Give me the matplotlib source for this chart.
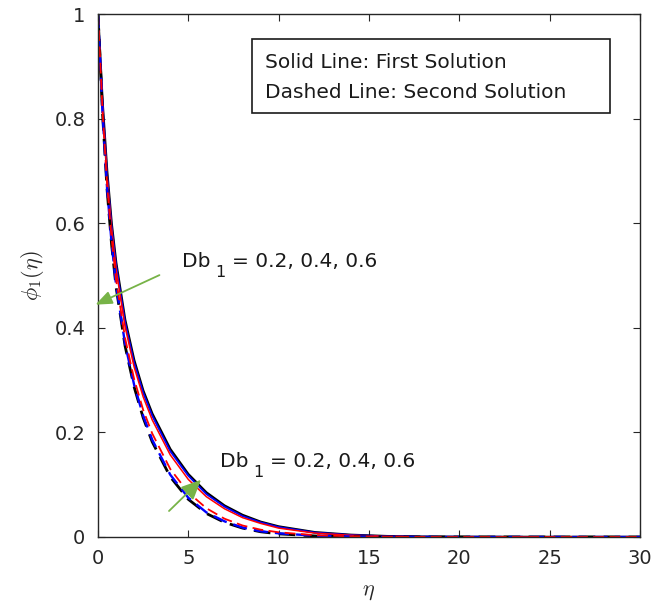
import matplotlib
matplotlib.use("Agg")
import matplotlib.pyplot as plt
from matplotlib.patches import Rectangle
from matplotlib.transforms import offset_copy

plt.rcParams['font.family'] = ['DejaVu Sans']
plt.rcParams['mathtext.fontset'] = 'cm'

eta = [0, 0.25, 0.5, 0.75, 1, 1.5, 2, 2.5, 3, 4, 5, 6, 7, 8, 9, 10, 12, 14, 16, 18, 20, 25, 30]

# First solution (solid)
first_02 = [1, 0.83, 0.70, 0.60, 0.525, 0.415, 0.338, 0.280, 0.236, 0.168, 0.120, 0.085, 0.060, 0.042, 0.029, 0.020, 0.009, 0.004, 0.0015, 0.0005, 0.0002, 0, 0]
first_04 = [1, 0.83, 0.695, 0.595, 0.520, 0.410, 0.333, 0.276, 0.232, 0.164, 0.117, 0.082, 0.058, 0.040, 0.028, 0.019, 0.0085, 0.0037, 0.0014, 0.0005, 0.0002, 0, 0]
first_06 = [1, 0.825, 0.69, 0.59, 0.512, 0.402, 0.325, 0.268, 0.224, 0.157, 0.110, 0.077, 0.054, 0.037, 0.026, 0.017, 0.0075, 0.0032, 0.0012, 0.0004, 0.0001, 0, 0]

# Second solution (dashed)
second_02 = [1, 0.81, 0.665, 0.56, 0.478, 0.365, 0.287, 0.228, 0.182, 0.115, 0.072, 0.045, 0.028, 0.017, 0.010, 0.006, 0.002, 0.0007, 0.0002, 0, 0, 0, 0]
second_04 = [1, 0.81, 0.668, 0.563, 0.482, 0.369, 0.291, 0.232, 0.186, 0.119, 0.075, 0.047, 0.030, 0.018, 0.011, 0.007, 0.0025, 0.0008, 0.0002, 0, 0, 0, 0]
second_06 = [1, 0.815, 0.675, 0.572, 0.492, 0.380, 0.302, 0.243, 0.198, 0.130, 0.085, 0.055, 0.035, 0.022, 0.014, 0.009, 0.0035, 0.0012, 0.0004, 0.0001, 0, 0, 0]

ytick_labels = ['0', '0.2', '0.4', '0.6', '0.8', '1']
annot_parts = ['Db', '1', '= 0.2, 0.4, 0.6']
legend_lines = ['Solid Line: First Solution', 'Dashed Line: Second Solution']

W, H = 652, 612
fig = plt.figure(figsize=(W/100, H/100), dpi=100)
ax = fig.add_axes([98/W, 1-537/H, (640-98)/W, (537-14)/H])

ax.plot(eta, first_02, color='black', lw=1.8)
ax.plot(eta, first_04, color='blue', lw=1.3)
ax.plot(eta, first_06, color='red', lw=1.1)
ax.plot(eta, second_02, color='black', lw=2.0, ls=(0, (6, 3)))
ax.plot(eta, second_04, color='blue', lw=1.7, ls=(0, (6, 3)))
ax.plot(eta, second_06, color='red', lw=1.3, ls=(0, (6, 3)))

ax.set_xlim(0, 30)
ax.set_ylim(0, 1)
ax.set_xticks([0, 5, 10, 15, 20, 25, 30])
ax.set_yticks([0, 0.2, 0.4, 0.6, 0.8, 1])
ax.set_yticklabels(ytick_labels)
ax.tick_params(direction='in', top=True, right=True, labelsize=14, colors='#262626', length=5, pad=9)
for s in ax.spines.values():
    s.set_color('#262626')
    s.set_linewidth(1.0)

ax.set_xlabel(r'$\eta$', fontsize=16, color='#262626', labelpad=10)
ax.set_ylabel(r'$\phi_1(\eta)$', fontsize=16, color='#262626', labelpad=6)

green = '#77b347'
ax.annotate('', xy=(-0.28, 0.442), xytext=(3.54, 0.503),
            arrowprops=dict(arrowstyle='-|>,head_length=1.0,head_width=0.4', color=green, lw=1.3),
            annotation_clip=False)
ax.annotate('', xy=(5.81, 0.113), xytext=(3.82, 0.046),
            arrowprops=dict(arrowstyle='-|>,head_length=1.2,head_width=0.55', color=green, lw=1.3))

def label(x, y):
    ax.text(x, y, annot_parts[0], fontsize=14.5, va='baseline', ha='left', color='#1a1a1a')
    t1 = offset_copy(ax.transData, fig=fig, x=33, y=-10, units='dots')
    ax.text(x, y, annot_parts[1], fontsize=11.5, va='baseline', ha='left', color='#1a1a1a', transform=t1)
    t2 = offset_copy(ax.transData, fig=fig, x=50, y=0, units='dots')
    ax.text(x, y, annot_parts[2], fontsize=14.5, va='baseline', ha='left', color='#1a1a1a', transform=t2)

label(4.65, 0.516)
label(6.75, 0.134)

# legend-like text box
box_x0, box_y0, box_x1, box_y1 = 252, 39, 610, 113
ax.add_patch(Rectangle(((box_x0-98)/542, (537-box_y1)/523), (box_x1-box_x0)/542, (box_y1-box_y0)/523,
                       transform=ax.transAxes, fc='white', ec='#1a1a1a', lw=1.2, zorder=5))
for line, yc in zip(legend_lines, [62, 92]):
    ax.text((265-98)/542, (537-yc)/523, line, transform=ax.transAxes, fontsize=14.5,
            va='center', ha='left', color='#1a1a1a', zorder=6)

fig.savefig('out.png', dpi=100)
